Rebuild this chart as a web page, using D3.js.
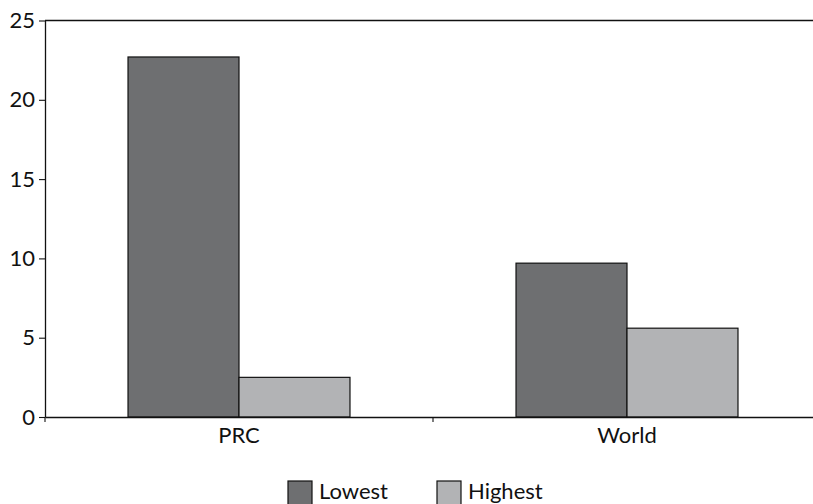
<!DOCTYPE html>
<html><head><meta charset="utf-8">
<script src="https://cdn.jsdelivr.net/npm/d3@7/dist/d3.min.js"></script>
<style>body{margin:0;background:#fff}svg{display:block}text{font-family:Lato,"Open Sans",sans-serif;fill:#111}</style>
</head><body><svg id="c" width="813" height="504"></svg>
<script>
const categories = ["PRC", "World"];
const seriesNames = ["Lowest", "Highest"];
const lowest = [22.7, 9.7];
const highest = [2.5, 5.6];
const yTicks = [0, 5, 10, 15, 20, 25];
const colors = ["#6e6f71", "#b2b3b5"];

const svg = d3.select("#c");
const mLeft = 45, mRight = 821, mTop = 20.5, mBottom = 417;
const x = d3.scaleBand().domain(categories).range([mLeft, mRight]).padding(0);
const xs = d3.scaleBand().domain(seriesNames).range([0, x.bandwidth()]).paddingInner(0).paddingOuter(0.748);
const y = d3.scaleLinear().domain([0, 25]).range([mBottom, mTop]);

const data = categories.map((c, i) => ({cat: c, vals: [lowest[i], highest[i]]}));

// top border
svg.append("line").attr("x1", mLeft).attr("x2", 813).attr("y1", y(25)).attr("y2", y(25))
  .attr("stroke", "#111").attr("stroke-width", 1.3);

const g = svg.selectAll("g.cat").data(data).join("g").attr("class", "cat").attr("transform", d => `translate(${x(d.cat)},0)`);
g.selectAll("rect").data(d => d.vals.map((v, j) => ({s: seriesNames[j], v, j}))).join("rect")
  .attr("x", d => xs(d.s)).attr("width", xs.bandwidth())
  .attr("y", d => y(d.v)).attr("height", d => y(0) - y(d.v))
  .attr("fill", d => colors[d.j]).attr("stroke", "#111").attr("stroke-width", 1.2);

// y axis
const ya = svg.append("g").attr("transform", `translate(${mLeft},0)`)
  .call(d3.axisLeft(y).tickValues(yTicks).tickSize(6).tickPadding(4).tickSizeOuter(0));
ya.select(".domain").attr("stroke", "#111").attr("stroke-width", 1.3);
ya.selectAll(".tick line").attr("stroke", "#111").attr("stroke-width", 1.1);
ya.selectAll(".tick text").style("font-size", "22px").attr("fill", "#111");

// x axis
const xa = svg.append("g").attr("transform", `translate(0,${mBottom})`)
  .call(d3.axisBottom(x).tickSize(0).tickPadding(10).tickSizeOuter(0));
xa.select(".domain").attr("stroke", "#111").attr("stroke-width", 1.3);
xa.selectAll(".tick text").style("font-size", "22px").attr("fill", "#111");
// category boundary ticks
const bounds = [mLeft, x("World")];
svg.selectAll("line.xb").data(bounds).join("line").attr("class", "xb")
  .attr("x1", d => d).attr("x2", d => d).attr("y1", mBottom).attr("y2", mBottom + 5)
  .attr("stroke", "#111").attr("stroke-width", 1.1);

// legend
const legX = [288, 437];
const lg = svg.selectAll("g.leg").data(seriesNames).join("g").attr("class", "leg")
  .attr("transform", (d, i) => `translate(${legX[i]},481)`);
lg.append("rect").attr("width", 24).attr("height", 24).attr("fill", (d, i) => colors[i])
  .attr("stroke", "#111").attr("stroke-width", 1.2);
lg.append("text").attr("x", 31).attr("y", 18).style("font-size", "22px").text(d => d);
</script></body></html>
